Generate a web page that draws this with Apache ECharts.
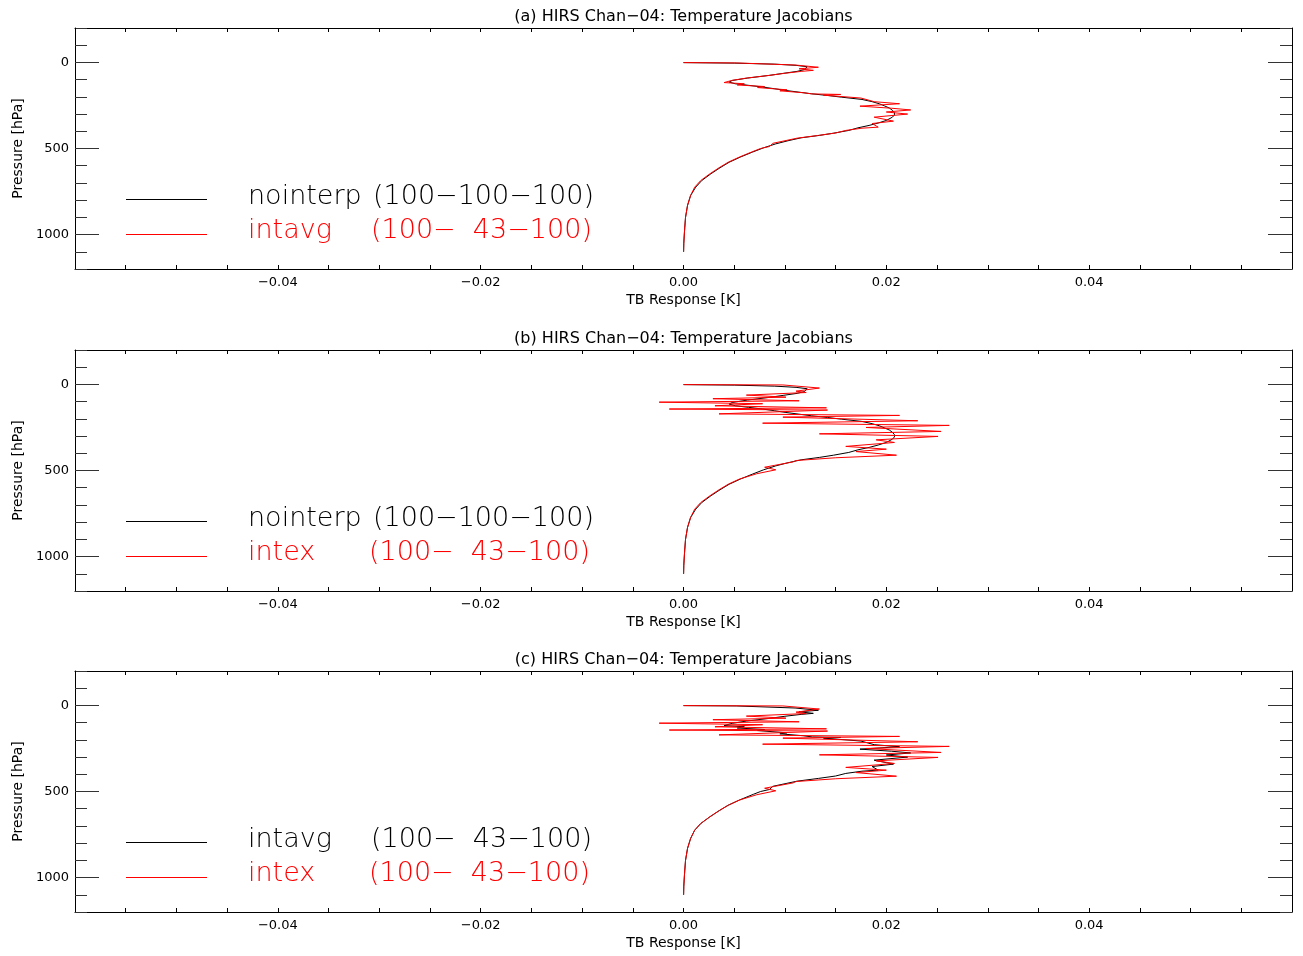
<!DOCTYPE html>
<html>
<head>
<meta charset="utf-8">
<script src="https://cdn.jsdelivr.net/npm/echarts@6/dist/echarts.min.js"></script>
<style>
html,body{margin:0;padding:0;background:#fff;}
#chart{width:1303px;height:956px;}
</style>
</head>
<body>
<div id="chart"></div>
<script>
// ---------------- data ----------------
const panelTitles = [
  '(a) HIRS Chan\u221204: Temperature Jacobians',
  '(b) HIRS Chan\u221204: Temperature Jacobians',
  '(c) HIRS Chan\u221204: Temperature Jacobians'
];
const xLabelValues = [-0.04, -0.02, 0.00, 0.02, 0.04];
const yLabelValues = [0, 500, 1000];

// nointerp (100-100-100): pressure [hPa] and TB response [K]
const nointerpP = [1, 4, 10, 17, 25, 33, 42, 52, 63, 75, 91, 105, 114, 124, 133, 143, 153, 163, 172, 182,
  192, 202, 215, 228, 240, 252, 265, 278, 292, 305, 318, 337, 352, 366, 380, 395, 411, 424, 438, 455,
  473, 496, 521, 550, 580, 612, 647, 686, 725, 773, 830, 900, 980, 1050, 1100];
const nointerpV = [0.0000, 0.0050, 0.0090, 0.0111, 0.0122, 0.0123, 0.0119, 0.0112, 0.0099, 0.0085, 0.0063, 0.0048, 0.0045, 0.0051, 0.0064, 0.0078, 0.0090, 0.0101, 0.0113, 0.0126,
  0.0142, 0.0156, 0.0176, 0.0186, 0.0193, 0.0198, 0.0203, 0.0206, 0.0208, 0.0208, 0.0206, 0.0200, 0.0192, 0.0183, 0.0172, 0.0163, 0.0148, 0.0134, 0.0116, 0.0103,
  0.0091, 0.0079, 0.0068, 0.0056, 0.0045, 0.0036, 0.0027, 0.0018, 0.0012, 0.0007, 0.0004, 0.0002, 0.0001, 0.00003, 0.00001];

// intavg (100- 43-100)
const intavgP = [1, 3, 15, 28, 37, 46, 52, 63, 75, 91, 104, 117, 124, 131, 140, 146, 159, 165, 176, 183,
  186, 190, 207, 228, 240, 254, 266, 276, 288, 300, 318, 341, 355, 376, 382, 395, 410, 424, 440, 446,
  470, 488, 500, 516, 550, 580, 612, 647, 686, 725, 773, 830, 900, 980, 1050, 1100];
const intavgV = [0.0000, 0.0052, 0.0110, 0.0133, 0.0114, 0.0128, 0.0116, 0.0100, 0.0085, 0.0062, 0.0048, 0.0040, 0.0060, 0.0053, 0.0080, 0.0073, 0.0102, 0.0095, 0.0118, 0.0127,
  0.0155, 0.0138, 0.0175, 0.0188, 0.0213, 0.0174, 0.0205, 0.0224, 0.0200, 0.0221, 0.0188, 0.0207, 0.0186, 0.0192, 0.0176, 0.0160, 0.0150, 0.0133, 0.0112, 0.0113,
  0.0088, 0.0085, 0.0076, 0.0069, 0.0055, 0.0044, 0.0035, 0.0026, 0.0017, 0.0011, 0.0007, 0.0004, 0.0002, 0.0001, 0.00003, 0.00001];

// intex (100- 43-100)
const intexP = [1, 3, 21, 39, 47, 62, 74, 83, 95, 103, 112, 124, 136, 143, 149, 171, 180, 190, 211, 225,
  238, 250, 273, 287, 302, 322, 337, 360, 376, 390, 411, 426, 442, 450, 470, 481, 496, 519, 550, 580,
  612, 647, 686, 725, 773, 830, 900, 980, 1050, 1100];
const intexV = [0.0000, 0.0098, 0.0134, 0.0111, 0.0121, 0.0062, 0.0101, 0.0029, 0.0114, -0.0024, 0.0078, 0.0031, 0.0141, -0.0014, 0.0142, 0.0035, 0.0213, 0.0098, 0.0231, 0.0078,
  0.0262, 0.0180, 0.0254, 0.0134, 0.0251, 0.0190, 0.0208, 0.0160, 0.0200, 0.0170, 0.0210, 0.0150, 0.0111, 0.0108, 0.0090, 0.0080, 0.0091, 0.0072, 0.0055, 0.0044,
  0.0035, 0.0026, 0.0017, 0.0011, 0.0007, 0.0004, 0.0002, 0.0001, 0.00003, 0.00001];

// which series go in which panel: [black, red]
const panelSeries = [
  [{name: 'nointerp', p: nointerpP, v: nointerpV, tag: '(100\u2212100\u2212100)'},
   {name: 'intavg',   p: intavgP,   v: intavgV,   tag: '(100\u2212\u200743\u2212100)'}],
  [{name: 'nointerp', p: nointerpP, v: nointerpV, tag: '(100\u2212100\u2212100)'},
   {name: 'intex',    p: intexP,    v: intexV,    tag: '(100\u2212\u200743\u2212100)'}],
  [{name: 'intavg',   p: intavgP,   v: intavgV,   tag: '(100\u2212\u200743\u2212100)'},
   {name: 'intex',    p: intexP,    v: intexV,    tag: '(100\u2212\u200743\u2212100)'}]
];

// ---------------- layout / styling ----------------
const FONT = 'DejaVu Sans';
const gridLeft = 75, gridW = 1217, gridH = 241;
const gridTops = [28, 350, 671];
const colors = ['#000000', '#ff0000'];
const tagX = [[373, 371], [373, 369], [371, 369]];

const grids = [], xAxes = [], yAxes = [], series = [], graphics = [];

const isIn = (v, arr, eps) => arr.some(a => Math.abs(a - v) < eps);
const xFmt = v => {
  if (!isIn(v, xLabelValues, 1e-6)) return '';
  if (Math.abs(v) < 1e-6) return '0.00';
  return (v < 0 ? '\u2212' : '') + Math.abs(v).toFixed(2);
};
const yFmt = v => (isIn(v, yLabelValues, 1e-6) ? String(Math.round(v)) : '');

gridTops.forEach((top, i) => {
  grids.push({left: gridLeft, top: top, width: gridW, height: gridH});
});

// bottom x axes (0..2), top x axes (3..5); a tick every 0.005
['bottom', 'top'].forEach(pos => {
  gridTops.forEach((top, i) => {
    xAxes.push({
      type: 'value', gridIndex: i, position: pos,
      min: -0.06, max: 0.06, interval: 0.005,
      axisLine: {show: true, onZero: false, lineStyle: {color: '#000', width: 1}},
      axisTick: {show: true, inside: true, length: 4, lineStyle: {color: '#000'}},
      splitLine: {show: false},
      axisLabel: pos === 'bottom' ? {
        show: true, formatter: xFmt, color: '#000', fontFamily: FONT, fontSize: 13, margin: 7
      } : {show: false},
      name: pos === 'bottom' ? 'TB Response [K]' : '',
      nameLocation: 'middle', nameGap: 24,
      nameTextStyle: {color: '#000', fontFamily: FONT, fontSize: 14}
    });
  });
});

// y axes: left minor+labels (0..2), left major (3..5), right minor (6..8), right major (9..11)
[['left', false], ['left', true], ['right', false], ['right', true]].forEach(([pos, major]) => {
  gridTops.forEach((top, i) => {
    const ax = {
      type: 'value', gridIndex: i, position: pos, inverse: true,
      min: -200, max: 1200, interval: 100,
      axisLine: {show: !major, onZero: false, lineStyle: {color: '#000', width: 1}},
      axisTick: major
        ? {show: true, inside: true, length: 24, customValues: yLabelValues, lineStyle: {color: '#333'}}
        : {show: true, inside: true, length: 12, lineStyle: {color: '#333'}},
      splitLine: {show: false},
      axisLabel: (pos === 'left' && !major) ? {
        show: true, formatter: yFmt, color: '#000', fontFamily: FONT, fontSize: 13, margin: 6
      } : {show: false}
    };
    if (pos === 'left' && !major) {
      ax.name = 'Pressure [hPa]';
      ax.nameLocation = 'middle';
      ax.nameGap = 47;
      ax.nameTextStyle = {color: '#000', fontFamily: FONT, fontSize: 14};
    }
    yAxes.push(ax);
  });
});

panelSeries.forEach((pair, i) => {
  pair.forEach((s, k) => {
    series.push({
      type: 'line', name: s.name, xAxisIndex: i, yAxisIndex: i,
      data: s.p.map((p, j) => [s.v[j], p]),
      symbol: 'none', showSymbol: false, clip: true,
      lineStyle: {color: colors[k], width: 1},
      itemStyle: {color: colors[k]},
      z: 2 + k, animation: false
    });
  });
  const off = gridTops[i] - gridTops[0];
  // title
  graphics.push({
    type: 'text', x: gridLeft + gridW / 2, y: gridTops[i] - 11,
    style: {text: panelTitles[i], fill: '#000', fontFamily: FONT, fontSize: 16,
            align: 'center', verticalAlign: 'middle'}
  });
  // legend
  const lineY = [199.5, 234.5], textY = [196.5, 231];
  pair.forEach((s, k) => {
    graphics.push({
      type: 'line', z: 10, shape: {x1: 126, y1: lineY[k] + off, x2: 207, y2: lineY[k] + off},
      style: {stroke: colors[k], lineWidth: 1}
    });
    graphics.push({
      type: 'text', x: 248, y: textY[k] + off,
      style: {text: s.name, fill: colors[k], fontFamily: FONT, fontWeight: 200, fontSize: 27,
              align: 'left', verticalAlign: 'middle'}
    });
    graphics.push({
      type: 'text', x: tagX[i][k], y: textY[k] + off,
      style: {text: s.tag, fill: colors[k], fontFamily: FONT, fontWeight: 200, fontSize: 27,
              align: 'left', verticalAlign: 'middle'}
    });
  });
});

const chart = echarts.init(document.getElementById('chart'), null, {renderer: 'canvas'});
chart.setOption({
  animation: false,
  backgroundColor: '#ffffff',
  grid: grids,
  xAxis: xAxes,
  yAxis: yAxes,
  series: series,
  graphic: graphics
});
</script>
</body>
</html>
